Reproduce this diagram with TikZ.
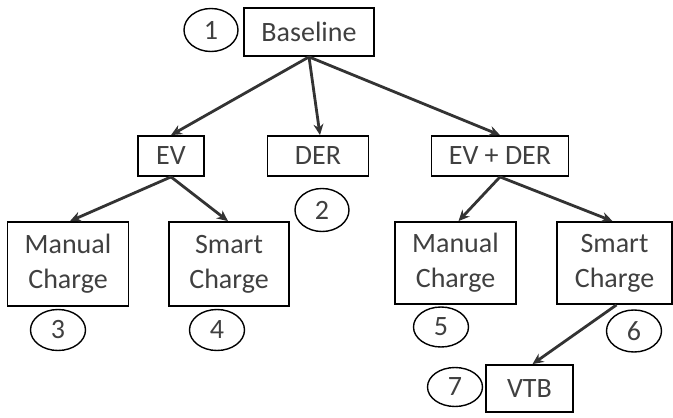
\documentclass[tikz,border=0pt]{standalone}
\usepackage{fontspec}
\setmainfont{Carlito}
\usetikzlibrary{shapes.geometric,arrows.meta}
\definecolor{txt}{HTML}{404040}
\definecolor{arr}{HTML}{333333}
\tikzset{
  box/.style={draw=black, line width=1.8pt, rectangle, inner sep=0pt, align=center, text=txt,
    font=\fontsize{28}{35}\selectfont},
  num/.style={draw=black, line width=1.4pt, ellipse, inner sep=0pt, minimum width=54pt, minimum height=43pt,
    text=txt, font=\fontsize{28}{30}\selectfont},
  link/.style={draw=arr, line width=2.8pt, -{Stealth[length=11pt,width=10pt]}, shorten >=0pt}
}
\begin{document}
\begin{tikzpicture}[x=1pt,y=-1pt]
\useasboundingbox (0,0) rectangle (673,418);
\node[box, minimum width=130pt, minimum height=48pt] (base) at (309,32) {Baseline};
\node[num] (n1) at (211,30) {1};
\node[box, minimum width=66pt, minimum height=40pt] (ev) at (171,156) {EV};
\node[box, minimum width=101pt, minimum height=40pt] (der) at (318,156) {DER};
\node[box, minimum width=137pt, minimum height=40pt] (evder) at (500,156) {EV + DER};
\node[num] (n2) at (322,210) {2};
\node[box, minimum width=121pt, minimum height=84pt] (mc1) at (68,264) {Manual\\Charge};
\node[box, minimum width=120pt, minimum height=84pt] (sc1) at (229,264) {Smart\\Charge};
\node[num, minimum width=55pt, minimum height=41pt] (n3) at (58,330) {3};
\node[num, minimum width=55pt, minimum height=41pt] (n4) at (217,330) {4};
\node[box, minimum width=121pt, minimum height=82pt] (mc2) at (455.5,263) {Manual\\Charge};
\node[box, minimum width=115pt, minimum height=82pt] (sc2) at (614.5,263) {Smart\\Charge};
\node[num, minimum width=55pt, minimum height=40pt] (n5) at (441,327) {5};
\node[num, minimum width=55pt, minimum height=42pt] (n6) at (634,331) {6};
\node[box, minimum width=87pt, minimum height=47pt] (vtb) at (529.5,388.5) {VTB};
\node[num, minimum width=55pt, minimum height=39pt] (n7) at (455,387) {7};
\draw[link] (base.south) -- (ev.north);
\draw[link] (base.south) -- ([xshift=2pt]der.north);
\draw[link] (base.south) -- (evder.north);
\draw[link] (ev.south) -- ([xshift=2pt]mc1.north);
\draw[link] (ev.south) -- ([xshift=-1pt]sc1.north);
\draw[link] (evder.south) -- ([xshift=3pt]mc2.north);
\draw[link] (evder.south) -- ([xshift=-2pt]sc2.north);
\draw[link] ([xshift=2pt]sc2.south) -- ([xshift=3pt]vtb.north);
\end{tikzpicture}
\end{document}
